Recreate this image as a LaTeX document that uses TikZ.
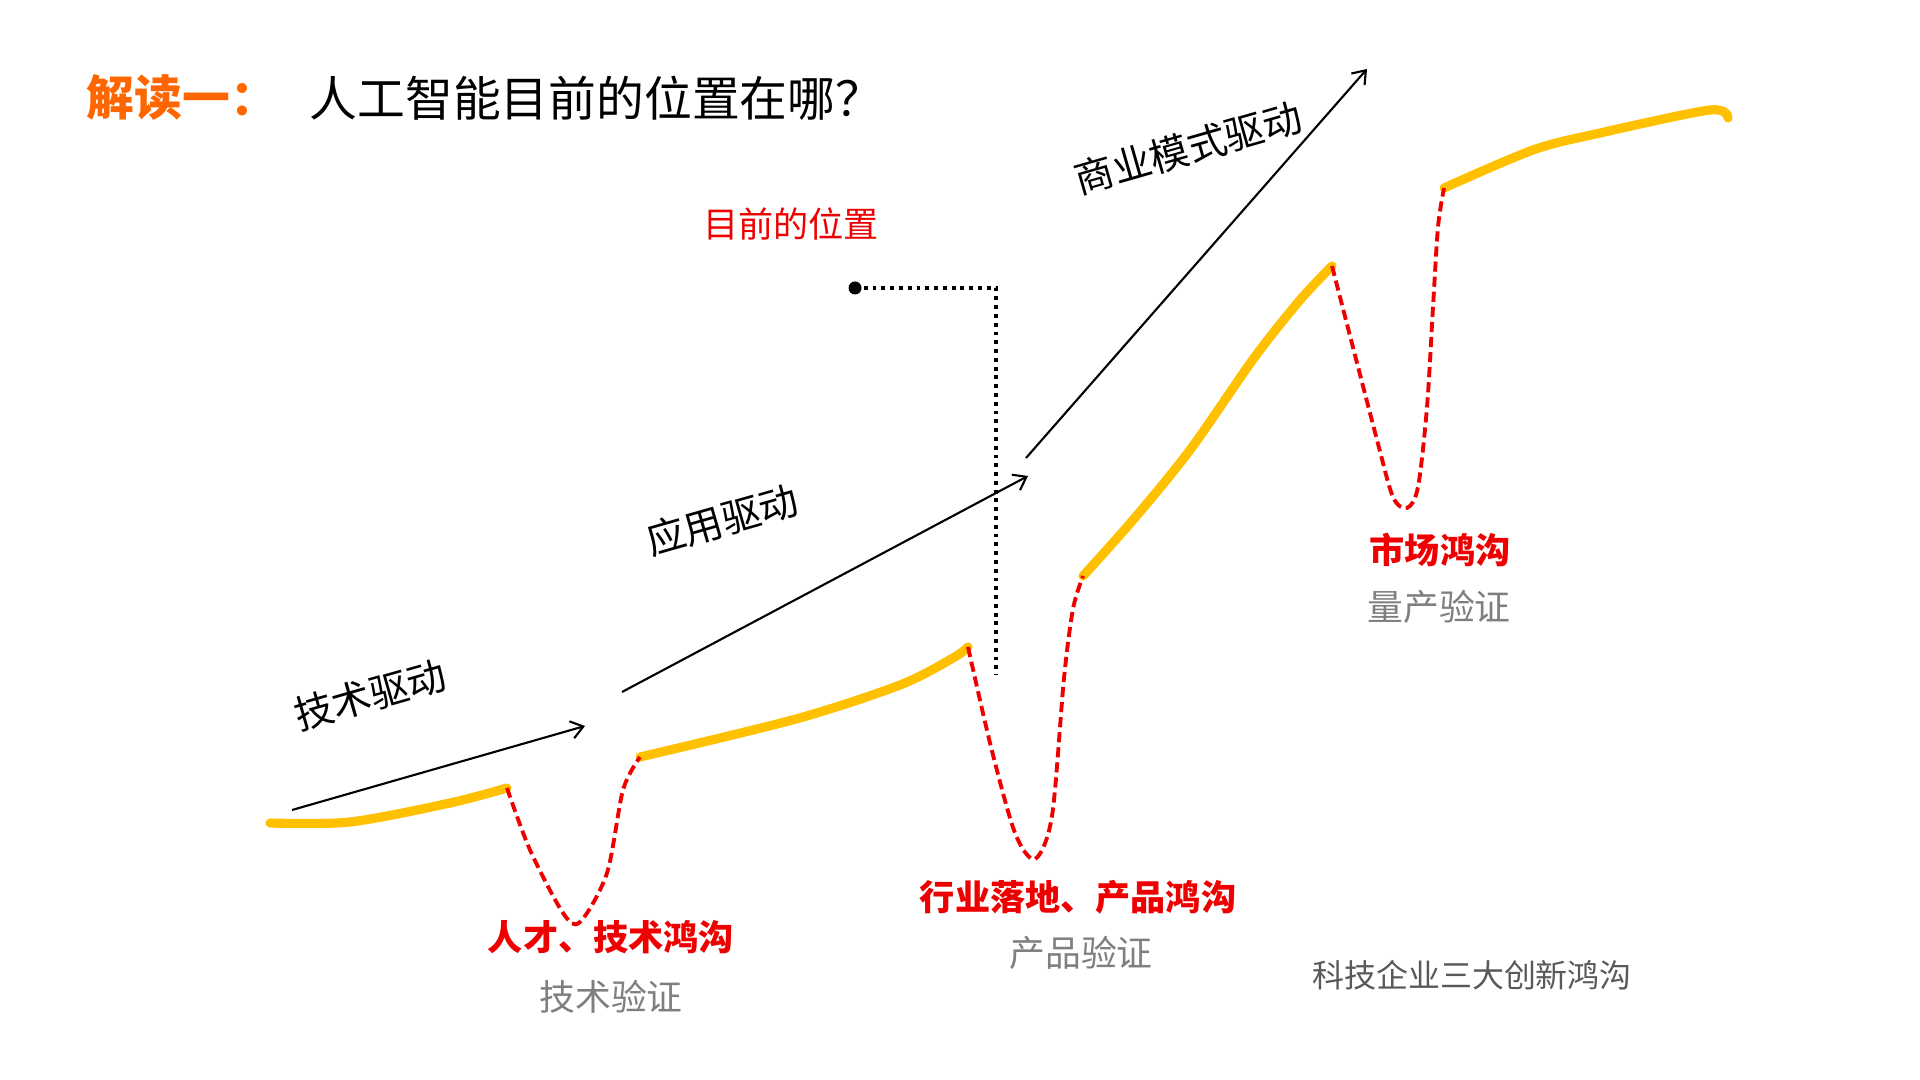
\documentclass[tikz,border=0pt]{standalone}
\usepackage{fontspec}
\setmainfont{Noto Sans CJK SC}
\usetikzlibrary{arrows.meta}
\definecolor{gold}{RGB}{255,192,0}
\definecolor{hotred}{RGB}{238,0,0}
\definecolor{titleorange}{RGB}{255,102,0}
\definecolor{labelgray}{RGB}{127,127,127}
\definecolor{notegray}{RGB}{89,89,89}
\def\fsz#1{\fontsize{#1}{#1}\selectfont}

\begin{document}
\begin{tikzpicture}[
		curve/.style={line width=2.6pt, color=gold, line cap=round},
		gap/.style={line width=1.1pt, color=hotred, dash pattern=on 2.9pt off 1.4pt},
		drive/.style={line width=0.6pt, -{Straight Barb[length=3.4pt, width=5pt]}},
		drivetext/.style={inner sep=0, font=\fsz{11.1}, rotate=16},
		gaptext/.style={inner sep=0, font=\fsz{10}\bfseries, color=hotred},
		proof/.style={inner sep=0, font=\fsz{10.2}, color=labelgray}
	]
		%%%%% START %%%%%
		\useasboundingbox (0, 0) rectangle (19.2, 10.8);
		
		\node[inner sep=0, anchor=west, font=\fsz{13.6}\bfseries, color=titleorange] (head) at (0.86, 9.82) {解读一：};
		\node[inner sep=0, anchor=west, font=\fsz{13.6}] (question) at (3.09, 9.82) {人工智能目前的位置在哪？};
		
		% junctions of the curve
		\coordinate (j1) at (5.07, 2.92);
		\coordinate (j2) at (6.40, 3.23);
		\coordinate (j3) at (9.68, 4.33);
		\coordinate (j4) at (10.83, 5.04);
		\coordinate (j5) at (13.32, 8.14);
		\coordinate (j6) at (14.44, 8.92);
		
		\draw[curve] plot[smooth] coordinates {(2.70, 2.57) (3.50, 2.58) (4.50, 2.77) (j1)};
		\draw[curve] plot[smooth] coordinates {(j2) (7.96, 3.61) (9.00, 3.95) (9.53, 4.22) (j3)};
		\draw[curve] plot[smooth] coordinates {(j4) (11.33, 5.60) (11.90, 6.30) (12.54, 7.22) (13.00, 7.80) (j5)};
		\draw[curve] plot[smooth] coordinates {(j6) (15.33, 9.30) (16.00, 9.47) (17.10, 9.70) (17.28, 9.62)};
		
		\draw[gap] plot[smooth] coordinates {(j1) (5.30, 2.30) (5.63, 1.67) (5.80, 1.58) (6.07, 2.07) (6.23, 2.90) (j2)};
		\draw[gap] plot[smooth] coordinates {(j3) (9.91, 3.33) (10.15, 2.47) (10.35, 2.21) (10.52, 2.64) (10.64, 4.02) (10.73, 4.71) (j4)};
		\draw[gap] plot[smooth] coordinates {(j5) (13.77, 6.40) (13.93, 5.83) (14.07, 5.72) (14.18, 5.93) (14.27, 6.73) (14.33, 7.73) (14.38, 8.53) (j6)};
		
		% three drives
		\coordinate (a1) at (2.92, 2.70);
		\coordinate (b1) at (5.85, 3.54);
		\coordinate (a2) at (6.22, 3.88);
		\coordinate (b2) at (10.28, 6.04);
		\coordinate (a3) at (10.26, 6.22);
		\coordinate (b3) at (13.67, 10.11);
		\draw[drive] (a1) -- (b1);
		\draw[drive] (a2) -- (b2);
		\draw[drive] (a3) -- (b3);
		
		\node[drivetext] (tech) at (3.70, 3.85) {技术驱动};
		\node[drivetext] (app) at (7.22, 5.60) {应用驱动};
		\node[drivetext] (biz) at (11.88, 9.32) {商业模式驱动};
		
		% where we are now
		\node[inner sep=0, font=\fsz{10}, color=hotred] (now) at (7.91, 8.56) {目前的位置};
		\coordinate (dot) at (8.55, 7.92);
		\coordinate (corner) at (9.96, 7.92);
		\coordinate (foot) at (9.96, 4.05);
		\draw[line width=1.1pt, dash pattern=on 1.1pt off 1.4pt] (dot) -- (corner) -- (foot);
		\fill (dot) circle (0.065);
		
		\node[gaptext] (gap1) at (6.11, 1.43) {人才、技术鸿沟};
		\node[proof] (proof1) at (6.11, 0.83) {技术验证};
		\node[gaptext] (gap2) at (10.78, 1.83) {行业落地、产品鸿沟};
		\node[proof] (proof2) at (10.81, 1.27) {产品验证};
		\node[gaptext] (gap3) at (14.40, 5.30) {市场鸿沟};
		\node[proof] (proof3) at (14.39, 4.73) {量产验证};
		
		\node[inner sep=0, font=\fsz{9.1}, color=notegray] (note) at (14.72, 1.05) {科技企业三大创新鸿沟};
		%%%%% END %%%%%
\end{tikzpicture}
\end{document}
